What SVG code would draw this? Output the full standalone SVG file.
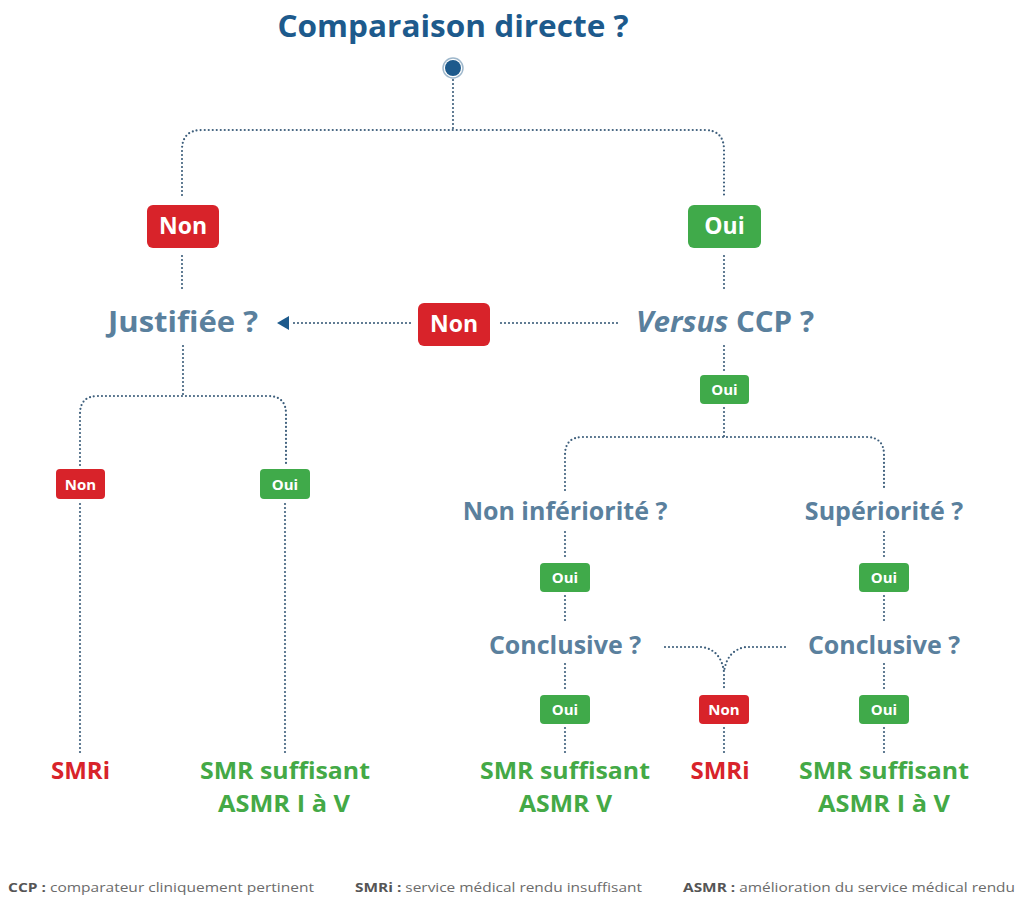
<svg xmlns="http://www.w3.org/2000/svg" width="1019" height="897" viewBox="0 0 1019 897">
<style>
.dot{fill:none;stroke:#3e5f7c;stroke-width:2.2;stroke-linecap:round;stroke-dasharray:0 4}
.t{font-family:"Open Sans","Liberation Sans",sans-serif;font-weight:700;text-anchor:middle}
.q{fill:#5a809d;font-size:25px}
.qb{font-size:28px}
.red{fill:#d8232a}
.grn{fill:#40aa4a}
.bl{fill:#fff;font-size:23px}
.sl{fill:#fff;font-size:15px}
.res{font-size:24px}
.ft{font-family:"Open Sans","Liberation Sans",sans-serif;font-size:13px;fill:#6b6b6b}
.ftb{font-weight:700;fill:#555}
</style>
<g id="connectors">
<path class="dot" d="M453,80 V130"/>
<path class="dot" d="M182,195 V150 Q182,130 202,130 H704 Q724,130 724,150 V195"/>
<path class="dot" d="M182,256 V292"/>
<path class="dot" d="M724,256 V292"/>
<path class="dot" d="M183,346 V396"/>
<path class="dot" d="M80,465 V414 Q80,396 98,396 H268 Q286,396 286,414 V465"/>
<path class="dot" d="M80,504 V756"/>
<path class="dot" d="M285,504 V756"/>
<path class="dot" d="M617,323 H500"/>
<path class="dot" d="M410,323 H292"/>
<path d="M289,316 L277,323 L289,330 Z" fill="#1d5a8c"/>
<path class="dot" d="M724,346 V372"/>
<path class="dot" d="M724,408 V437"/>
<path class="dot" d="M565,490 V455 Q565,437 583,437 H866 Q884,437 884,455 V490"/>
<path class="dot" d="M565,532 V560"/>
<path class="dot" d="M565,596 V622"/>
<path class="dot" d="M565,664 V690"/>
<path class="dot" d="M565,728 V755"/>
<path class="dot" d="M884,532 V560"/>
<path class="dot" d="M884,596 V622"/>
<path class="dot" d="M884,664 V690"/>
<path class="dot" d="M884,728 V755"/>
<path class="dot" d="M665,647 H702 Q721,650 724,672 V690"/>
<path class="dot" d="M785,647 H746 Q727,650 724,672"/>
<path class="dot" d="M724,728 V755"/>
</g>
<g id="title">
<text class="t" x="453" y="37" font-size="31" fill="#1d5a8c" textLength="351" lengthAdjust="spacingAndGlyphs">Comparaison directe ?</text>
</g>
<g id="start">
<circle cx="453" cy="68" r="10" fill="#fff" stroke="#9fb8cc" stroke-width="1.5"/>
<circle cx="453" cy="68" r="8" fill="#1d5a8c"/>
</g>
<g id="non1">
<rect x="147" y="205" width="72" height="43" rx="6" class="red"/>
<text class="t bl" x="183" y="234">Non</text>
</g>
<g id="oui1">
<rect x="688" y="205" width="73" height="43" rx="6" class="grn"/>
<text class="t bl" x="724.5" y="234">Oui</text>
</g>
<g id="justifiee">
<text class="t q qb" x="183" y="332" textLength="150" lengthAdjust="spacingAndGlyphs">Justifiée ?</text>
</g>
<g id="non2">
<rect x="418" y="303" width="72" height="43" rx="6" class="red"/>
<text class="t bl" x="454" y="332">Non</text>
</g>
<g id="versus">
<text class="t q qb" x="725" y="332" textLength="178" lengthAdjust="spacingAndGlyphs"><tspan font-style="italic">Versus</tspan> CCP ?</text>
</g>
<g id="oui2">
<rect x="700" y="375" width="49" height="29" rx="4" class="grn"/>
<text class="t sl" x="724.5" y="395">Oui</text>
</g>
<g id="non3">
<rect x="56" y="469" width="49" height="30" rx="4" class="red"/>
<text class="t sl" x="80.5" y="489.5">Non</text>
</g>
<g id="oui3">
<rect x="260" y="469" width="50" height="30" rx="4" class="grn"/>
<text class="t sl" x="285" y="489.5">Oui</text>
</g>
<g id="smri1">
<text class="t res" x="80.5" y="779" fill="#d8232a" textLength="59" lengthAdjust="spacingAndGlyphs">SMRi</text>
</g>
<g id="smr1">
<text class="t res" x="285" y="779" fill="#44a946" textLength="170" lengthAdjust="spacingAndGlyphs">SMR suffisant</text>
<text class="t res" x="284" y="812" fill="#44a946" textLength="132" lengthAdjust="spacingAndGlyphs">ASMR I à V</text>
</g>
<g id="noninf">
<text class="t q" x="565" y="520">Non infériorité ?</text>
</g>
<g id="sup">
<text class="t q" x="884" y="520">Supériorité ?</text>
</g>
<g id="oui4">
<rect x="540" y="563" width="50" height="29" rx="4" class="grn"/>
<text class="t sl" x="565" y="583">Oui</text>
</g>
<g id="oui5">
<rect x="859" y="563" width="50" height="29" rx="4" class="grn"/>
<text class="t sl" x="884" y="583">Oui</text>
</g>
<g id="concl1">
<text class="t q" x="565" y="654">Conclusive ?</text>
</g>
<g id="concl2">
<text class="t q" x="884" y="654">Conclusive ?</text>
</g>
<g id="oui6">
<rect x="540" y="695" width="50" height="29" rx="4" class="grn"/>
<text class="t sl" x="565" y="715">Oui</text>
</g>
<g id="non4">
<rect x="699" y="695" width="50" height="29" rx="4" class="red"/>
<text class="t sl" x="724" y="715">Non</text>
</g>
<g id="oui7">
<rect x="859" y="695" width="50" height="29" rx="4" class="grn"/>
<text class="t sl" x="884" y="715">Oui</text>
</g>
<g id="smr2">
<text class="t res" x="565" y="779" fill="#44a946" textLength="170" lengthAdjust="spacingAndGlyphs">SMR suffisant</text>
<text class="t res" x="565.5" y="812" fill="#44a946" textLength="93" lengthAdjust="spacingAndGlyphs">ASMR V</text>
</g>
<g id="smri2">
<text class="t res" x="720" y="779" fill="#d8232a" textLength="59" lengthAdjust="spacingAndGlyphs">SMRi</text>
</g>
<g id="smr3">
<text class="t res" x="884" y="779" fill="#44a946" textLength="170" lengthAdjust="spacingAndGlyphs">SMR suffisant</text>
<text class="t res" x="884" y="812" fill="#44a946" textLength="132" lengthAdjust="spacingAndGlyphs">ASMR I à V</text>
</g>
<g id="legend">
<text class="ft" x="8" y="892" textLength="306" lengthAdjust="spacingAndGlyphs"><tspan class="ftb">CCP :</tspan> comparateur cliniquement pertinent</text>
<text class="ft" x="355" y="892" textLength="287" lengthAdjust="spacingAndGlyphs"><tspan class="ftb">SMRi :</tspan> service médical rendu insuffisant</text>
<text class="ft" x="683" y="892" textLength="332" lengthAdjust="spacingAndGlyphs"><tspan class="ftb">ASMR :</tspan> amélioration du service médical rendu</text>
</g>
</svg>
